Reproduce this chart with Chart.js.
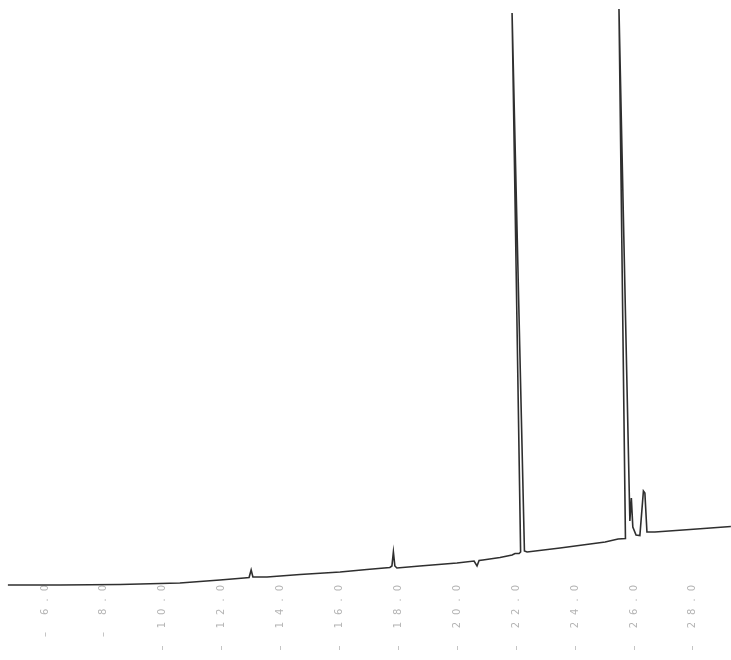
<!DOCTYPE html>
<html>
<head>
<meta charset="utf-8">
<script src="https://cdn.jsdelivr.net/npm/chart.js@4/dist/chart.umd.min.js"></script>
<style>
  html, body { margin: 0; padding: 0; background: #ffffff; }
  #wrap { width: 731px; height: 660px; position: relative; }
</style>
</head>
<body>
<div id="wrap"><canvas id="c" width="731" height="660"></canvas></div>
<script>
// Retention time (min) and detector response (% of full scale)
const retentionTime = [
  4.74, 6.51, 8.55, 10.58, 11.94, 12.76, 12.93, 13.00, 13.06, 13.54,
  14.66, 16.02, 16.93, 17.71, 17.78, 17.83, 17.88, 17.95, 18.73, 19.99,
  20.57, 20.67, 20.74, 20.87, 21.45, 21.86, 21.96, 22.10, 22.15, 21.86,
  22.28, 22.37, 23.49, 24.51, 25.02, 25.46, 25.71, 25.49, 25.86, 25.91,
  25.96, 26.07, 26.20, 26.32, 26.37, 26.44, 26.71, 27.90, 29.29
];
const detectorSignal = [
  2.50, 2.50, 2.58, 2.83, 3.33, 3.67, 3.75, 5.00, 3.83, 3.83,
  4.25, 4.67, 5.08, 5.42, 5.67, 8.00, 5.67, 5.33, 5.67, 6.17,
  6.50, 5.67, 6.58, 6.67, 7.08, 7.50, 7.75, 7.75, 8.00, 97.83,
  8.17, 8.00, 8.67, 9.33, 9.67, 10.17, 10.25, 98.50, 13.17, 17.00,
  12.17, 10.83, 10.75, 18.17, 17.83, 11.33, 11.33, 11.75, 12.25
];
// Time axis ticks
const tickTimes = [6, 8, 10, 12, 14, 16, 18, 20, 22, 24, 26, 28];
const tickLabels = ['6.0', '8.0', '10.0', '12.0', '14.0', '16.0', '18.0', '20.0', '22.0', '24.0', '26.0', '28.0'];

const points = retentionTime.map((t, i) => ({ x: t, y: detectorSignal[i] }));

// Wide character spacing for the rotated time labels
const spacedTicks = {
  id: 'spacedTicks',
  beforeDraw(chart) { chart.ctx.letterSpacing = '7px'; },
  beforeDatasetsDraw(chart) { chart.ctx.letterSpacing = '0px'; }
};

new Chart(document.getElementById('c'), {
  type: 'scatter',
  data: {
    datasets: [{
      data: points,
      showLine: true,
      clip: false,
      borderColor: '#2f2f2f',
      borderWidth: 1.6,
      pointRadius: 0,
      tension: 0,
      fill: false
    }]
  },
  options: {
    responsive: false,
    animation: false,
    layout: { padding: 0 },
    plugins: { legend: { display: false }, tooltip: { enabled: false } },
    scales: {
      x: {
        type: 'linear',
        min: 4.472,
        max: 29.294,
        afterBuildTicks: s => { s.ticks = tickTimes.map(v => ({ value: v })); },
        afterFit: s => { s.height = 85; },
        grid: { display: false, drawTicks: false },
        border: { display: false },
        ticks: {
          autoSkip: false,
          minRotation: 90,
          maxRotation: 90,
          padding: 3,
          color: '#b4b4b4',
          font: { family: 'DejaVu Sans', size: 10 },
          callback: (v, i) => '\u2013 ' + tickLabels[i]
        }
      },
      // recorder pen baseline sits a little below the plotted zero line
      y: { min: 25 / 6, max: 100, display: false }
    }
  },
  plugins: [spacedTicks]
});
</script>
</body>
</html>
